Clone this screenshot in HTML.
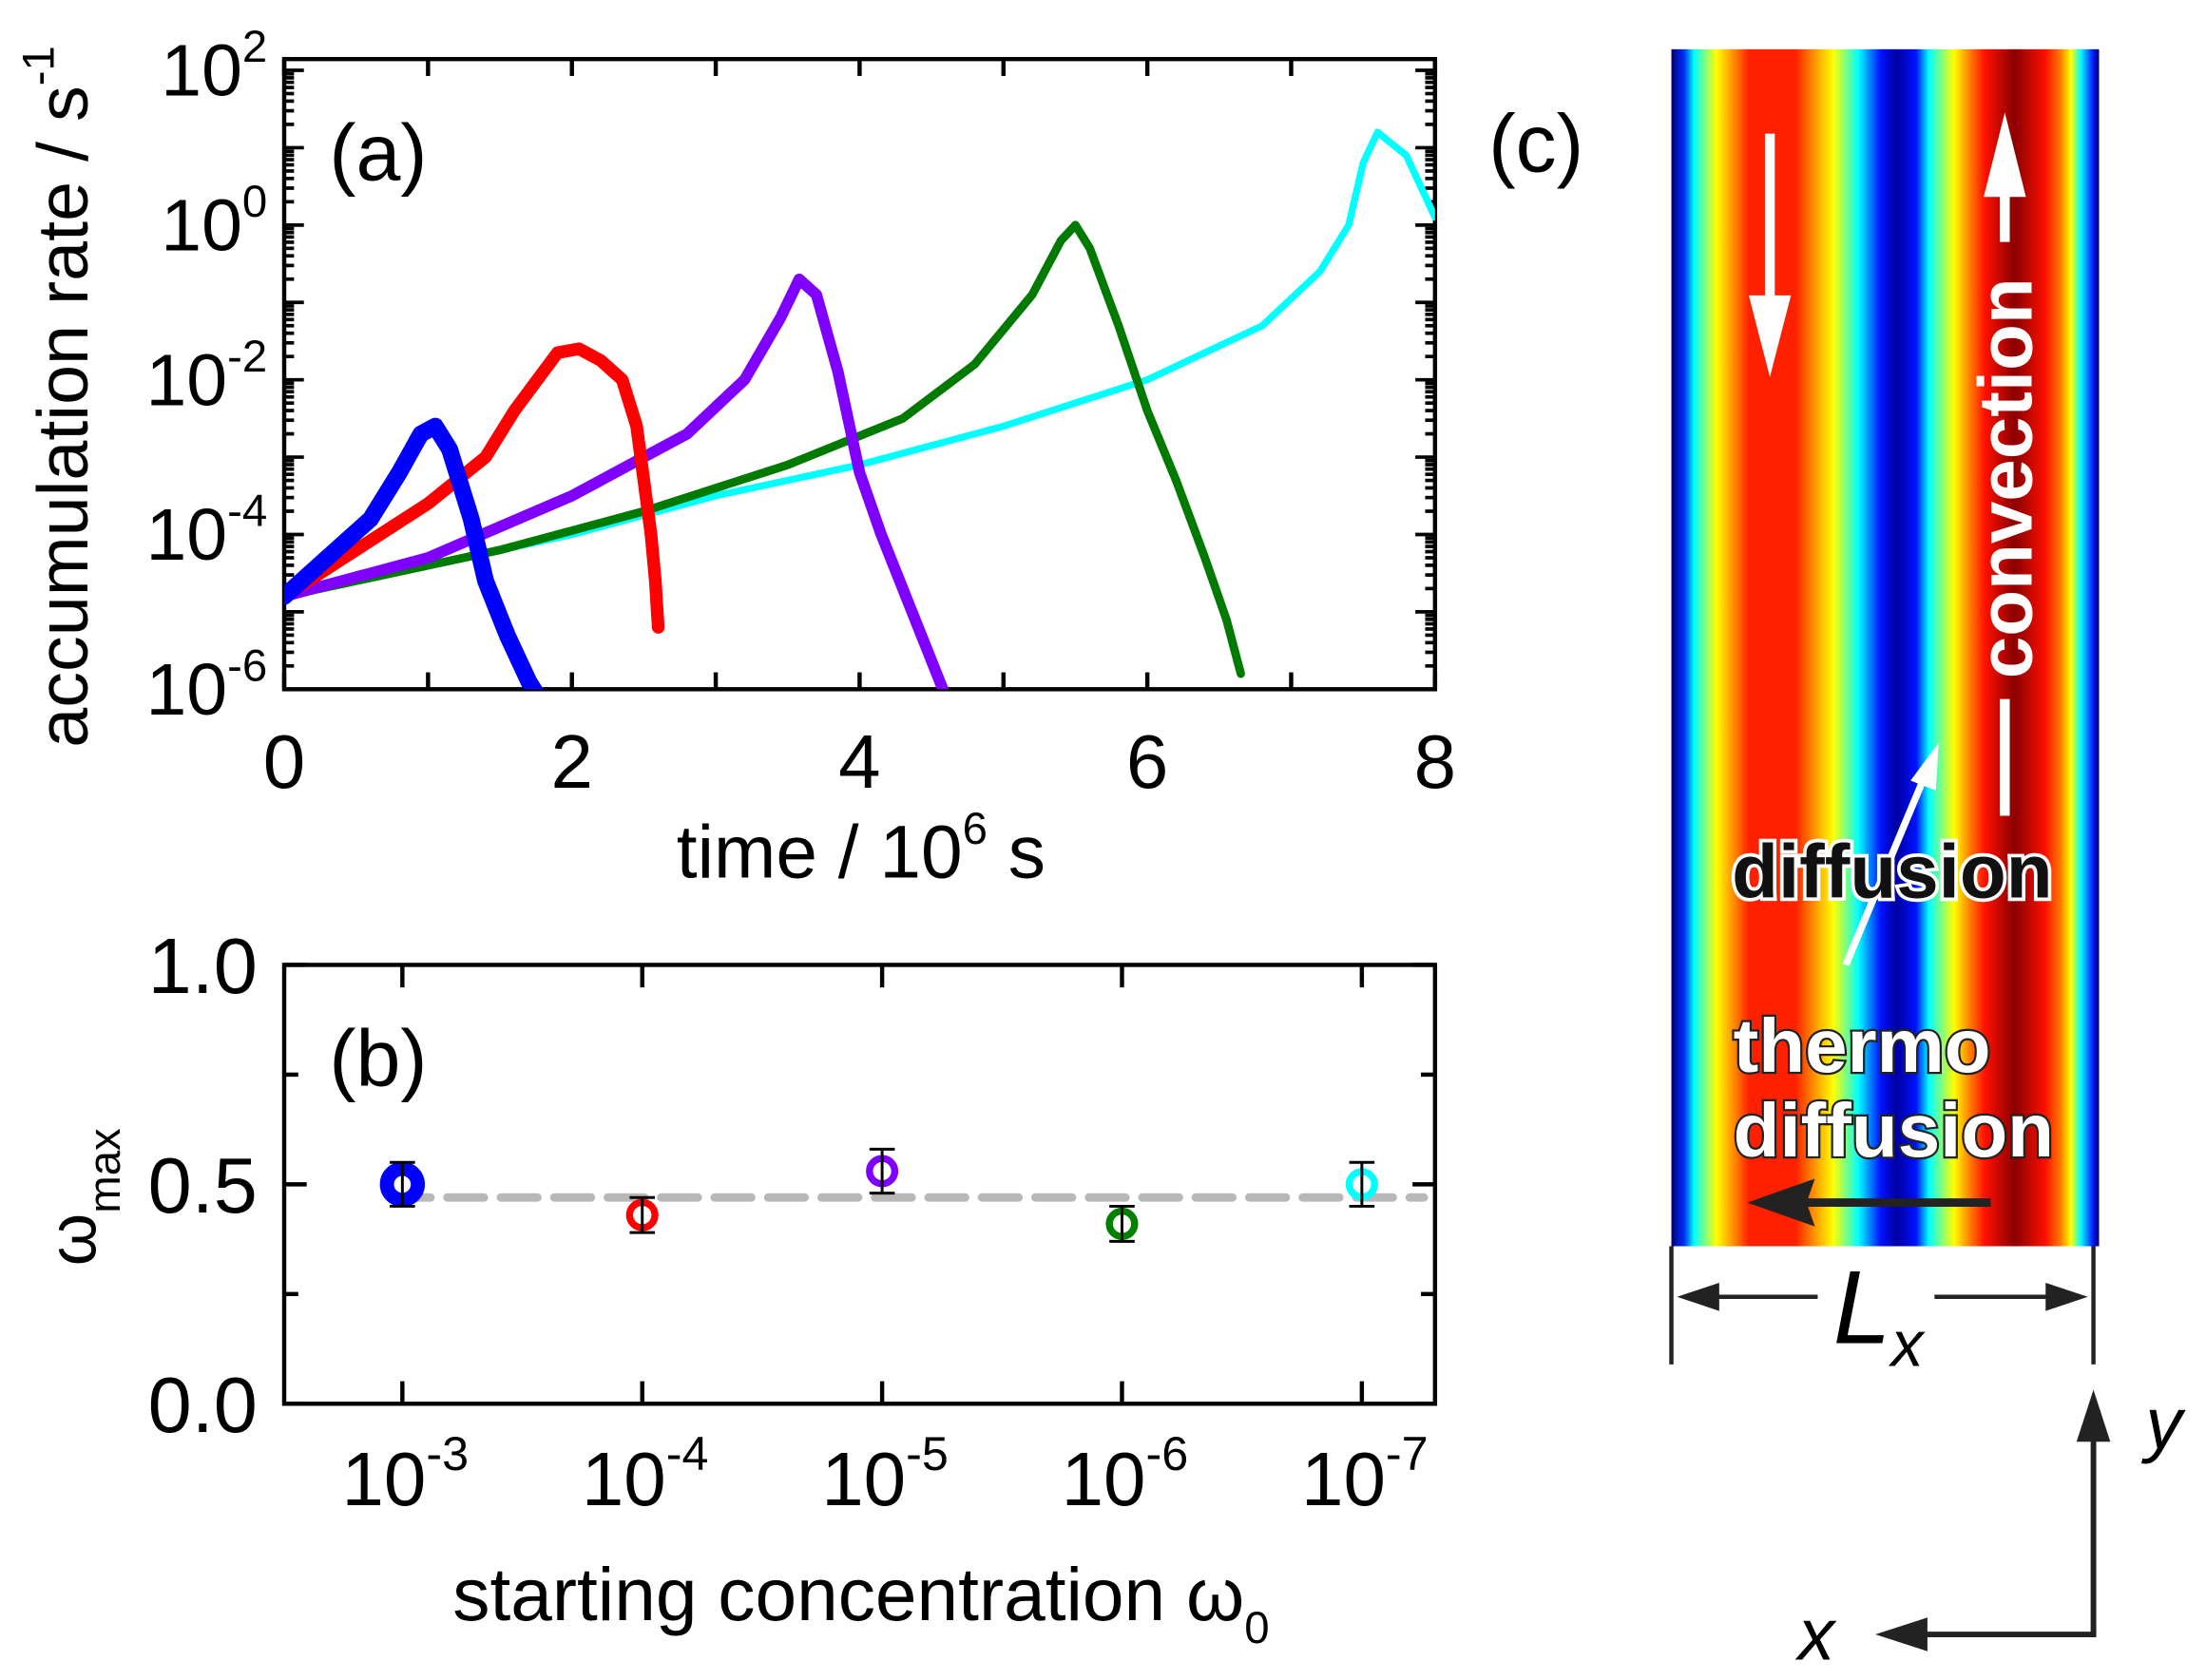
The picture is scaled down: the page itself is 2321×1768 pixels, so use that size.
<!DOCTYPE html>
<html><head><meta charset="utf-8"><style>
html,body{margin:0;padding:0;background:#fff}
svg{display:block}
text{font-family:"Liberation Sans",sans-serif}
</style></head><body>
<svg id="fig" width="2321" height="1768" viewBox="0 0 1568 1194.4" preserveAspectRatio="none" xmlns="http://www.w3.org/2000/svg">
<defs>
<linearGradient id="jet" x1="1188" x2="1492" y1="0" y2="0" gradientUnits="userSpaceOnUse">
<stop offset="0" stop-color="#00007a"/>
<stop offset="0.03" stop-color="#0030ff"/>
<stop offset="0.053" stop-color="#00ffff"/>
<stop offset="0.105" stop-color="#ffff00"/>
<stop offset="0.15" stop-color="#ff8000"/>
<stop offset="0.181" stop-color="#ff2000"/>
<stop offset="0.29" stop-color="#ff2000"/>
<stop offset="0.327" stop-color="#ff8000"/>
<stop offset="0.378" stop-color="#ffff00"/>
<stop offset="0.437" stop-color="#00ffff"/>
<stop offset="0.49" stop-color="#0010ff"/>
<stop offset="0.526" stop-color="#0000a0"/>
<stop offset="0.572" stop-color="#0010ff"/>
<stop offset="0.602" stop-color="#00ffff"/>
<stop offset="0.661" stop-color="#ffff00"/>
<stop offset="0.697" stop-color="#ff8000"/>
<stop offset="0.733" stop-color="#ff1000"/>
<stop offset="0.803" stop-color="#8a0000"/>
<stop offset="0.875" stop-color="#ff1000"/>
<stop offset="0.911" stop-color="#ff8000"/>
<stop offset="0.934" stop-color="#ffff00"/>
<stop offset="0.957" stop-color="#00ffff"/>
<stop offset="0.987" stop-color="#0010ff"/>
<stop offset="1" stop-color="#00005a"/>
</linearGradient>
</defs>
<g id="pa"></g>
<g id="pb"></g>
<g id="pc">
<rect x="1188" y="35" width="304" height="851" fill="url(#jet)"/>
<text x="1058" y="122" font-size="58">(c)</text>
<line x1="1258" y1="95" x2="1258" y2="225" stroke="#fff" stroke-width="7"/>
<polygon points="1243,210 1273,210 1258,268" fill="#fff"/>
<line x1="1425" y1="125" x2="1425" y2="172" stroke="#fff" stroke-width="7"/>
<polygon points="1410,140 1440,140 1425,80" fill="#fff"/>
<text transform="translate(1444,340) rotate(-90)" text-anchor="middle" font-size="54" font-weight="bold" fill="#fff">convection</text>
<line x1="1425" y1="497" x2="1425" y2="580" stroke="#fff" stroke-width="7"/>
<line x1="1312" y1="686" x2="1368" y2="552" stroke="#fff" stroke-width="5"/>
<polygon points="1378,528 1376,562 1358,555" fill="#fff"/>
<text x="1231" y="638" font-size="54" font-weight="bold" fill="#111" stroke="#fff" stroke-width="5" paint-order="stroke">diffusion</text>
<text x="1232" y="762" font-size="54" font-weight="bold" fill="#fff" stroke="#222" stroke-width="3" paint-order="stroke">thermo</text>
<text x="1232" y="822" font-size="54" font-weight="bold" fill="#fff" stroke="#222" stroke-width="3" paint-order="stroke">diffusion</text>
<line x1="1415" y1="855" x2="1275" y2="855" stroke="#222" stroke-width="6"/>
<polygon points="1242,855 1290,838 1284,855 1290,872" fill="#222"/>
<line x1="1188" y1="886" x2="1188" y2="970" stroke="#222" stroke-width="3"/>
<line x1="1488" y1="886" x2="1488" y2="970" stroke="#222" stroke-width="3"/>
<line x1="1205" y1="922" x2="1292" y2="922" stroke="#222" stroke-width="3"/>
<polygon points="1192,922 1222,912 1222,932" fill="#222"/>
<line x1="1375" y1="922" x2="1470" y2="922" stroke="#222" stroke-width="3"/>
<polygon points="1484,922 1454,912 1454,932" fill="#222"/>
<text x="1303" y="955" font-size="74" font-style="italic">L<tspan font-size="46" dy="16">x</tspan></text>
<line x1="1488" y1="1162" x2="1488" y2="1015" stroke="#222" stroke-width="4"/>
<polygon points="1488,988 1476,1025 1500,1025" fill="#222"/>
<text x="1525" y="1030" font-size="52" font-style="italic">y</text>
<line x1="1490" y1="1162" x2="1360" y2="1162" stroke="#222" stroke-width="4"/>
<polygon points="1333,1162 1370,1150 1370,1174" fill="#222"/>
<text x="1278" y="1180" font-size="52" font-style="italic">x</text>
</g>
</svg>
<script>
// Panel (a) data: time (1e6 s) and log10(rate / s^-1)
const blueT = [0,0.3,0.6,0.8,0.95,1.05,1.15,1.3,1.4,1.55,1.7,1.8];
const blueV = [-4.8,-4.3,-3.8,-3.2,-2.7,-2.6,-2.9,-3.8,-4.6,-5.3,-5.9,-6.2];
const redT = [0,0.5,1.0,1.4,1.6,1.8,1.9,2.05,2.2,2.35,2.45,2.5,2.55,2.58,2.6];
const redV = [-4.8,-4.2,-3.6,-3.0,-2.4,-1.9,-1.65,-1.6,-1.75,-2.0,-2.6,-3.3,-4.0,-4.6,-5.2];
const purpleT = [0,1,2,2.8,3.2,3.45,3.58,3.7,3.85,4.0,4.15,4.3,4.45,4.6];
const purpleV = [-4.8,-4.3,-3.5,-2.7,-2.0,-1.2,-0.7,-0.9,-1.9,-3.2,-4.0,-4.7,-5.4,-6.1];
const greenT = [0,1.5,2.5,3.5,4.3,4.8,5.2,5.4,5.5,5.6,5.8,6.0,6.2,6.4,6.55,6.65];
const greenV = [-4.8,-4.2,-3.7,-3.1,-2.5,-1.8,-0.9,-0.2,0.0,-0.3,-1.3,-2.4,-3.3,-4.3,-5.1,-5.8];
const cyanT = [0,1,2,3,4,5,6,6.8,7.2,7.4,7.5,7.6,7.8,8];
const cyanV = [-4.8,-4.4,-4.0,-3.5,-3.1,-2.6,-2.0,-1.3,-0.6,0.0,0.8,1.2,0.9,0.1];
const aXTicks = [0,2,4,6,8];
const aYTicks = [2,0,-2,-4,-6];
// Panel (b) data
const bCats = ["-3","-4","-5","-6","-7"];
const bVals = [0.50,0.43,0.53,0.41,0.50];
const bErr = [0.05,0.04,0.05,0.04,0.05];
const bColors = ["#0000ff","#ff0000","#8000ff","#008000","#00ffff"];
const bMean = 0.47;
const bYTicks = ["0.0","0.5","1.0"];

const NS="http://www.w3.org/2000/svg";
function mk(parent,tag,attrs){const e=document.createElementNS(NS,tag);for(const k in attrs)e.setAttribute(k,attrs[k]);parent.appendChild(e);return e;}
const pa=document.getElementById('pa'), pb=document.getElementById('pb');
const AX0=202,AX1=1020,AY0=42,AY1=490;
const ax=t=>AX0+(AX1-AX0)*t/8;
const ay=v=>AY1-(v+6)*55;
const frameA=mk(pa,'rect',{x:AX0,y:AY0,width:AX1-AX0,height:AY1-AY0,fill:'none',stroke:'#000','stroke-width':3});


for(let t=0;t<=8;t++){
  const l1=mk(pa,'line',{x1:ax(t),x2:ax(t),y1:AY1,y2:AY1-12,stroke:'#000','stroke-width':3});
  
  
  const l2=mk(pa,'line',{x1:ax(t),x2:ax(t),y1:AY0,y2:AY0+12,stroke:'#000','stroke-width':3});
  
  
}
for(let d=-6;d<=2;d++){
  for(let m=1;m<10;m++){
    const v=d+Math.log10(m); if(ay(v)<AY0) continue;
    const len=m===1?14:7;
    const l=mk(pa,'line',{x1:AX0,x2:AX0+len,y1:ay(v),y2:ay(v),stroke:'#000','stroke-width':2.5});
    
    
    const r=mk(pa,'line',{x1:AX1,x2:AX1-len,y1:ay(v),y2:ay(v),stroke:'#000','stroke-width':2.5});
    
    
    if(d===2)break;
  }
}
aXTicks.forEach(t=>{const e=mk(pa,'text',{x:ax(t),y:560,'font-size':54,'text-anchor':'middle'});e.textContent=t;

});
aYTicks.forEach(v=>{const e=mk(pa,'text',{x:190,y:ay(v)+18,'font-size':52,'text-anchor':'end'});e.innerHTML='10<tspan font-size="32" dy="-24">'+v+'</tspan>';

});
let t1=mk(pa,'text',{x:612,y:624,'font-size':53,'text-anchor':'middle'});t1.innerHTML='time / 10<tspan font-size="32" dy="-24">6</tspan><tspan dy="24"> s</tspan>';


let t2=mk(pa,'text',{transform:'translate(62,282) rotate(-90)','font-size':51,'text-anchor':'middle'});t2.innerHTML='accumulation rate / s<tspan font-size="32" dy="-24">-1</tspan>';


let t3=mk(pa,'text',{x:234,y:128,'font-size':57});t3.textContent='(a)';


const clipG=mk(pa,'svg',{x:AX0,y:AY0,width:AX1-AX0,height:AY1-AY0,viewBox:`${AX0} ${AY0} ${AX1-AX0} ${AY1-AY0}`,overflow:'hidden'});
const series=[[cyanT,cyanV,'#00ffff',5,'series-1e-7'],[greenT,greenV,'#007a00',6,'series-1e-6'],[purpleT,purpleV,'#8000ff',8,'series-1e-5'],[redT,redV,'#ff0000',9,'series-1e-4'],[blueT,blueV,'#0000ff',12,'series-1e-3']];
series.forEach(([T,V,c,w,n])=>{
  const pts=T.map((t,i)=>ax(t)+','+ay(V[i])).join(' ');
  const p=mk(clipG,'polyline',{points:pts,fill:'none',stroke:c,'stroke-width':w,'stroke-linejoin':'round','stroke-linecap':'round'});
  
  
});
// panel b
const BX0=202,BX1=1020,BY0=686,BY1=998;
const bx=i=>286+i*170.5;
const by=v=>BY1-(BY1-BY0)*v;
const frameB=mk(pb,'rect',{x:BX0,y:BY0,width:BX1-BX0,height:BY1-BY0,fill:'none',stroke:'#000','stroke-width':3});


[0,0.25,0.5,0.75,1].forEach(v=>{
  const len=(v===0.25||v===0.75)?10:16;
  const a=mk(pb,'line',{x1:BX0,x2:BX0+len,y1:by(v),y2:by(v),stroke:'#000','stroke-width':3});
  
  
  const b=mk(pb,'line',{x1:BX1,x2:BX1-len,y1:by(v),y2:by(v),stroke:'#000','stroke-width':3});
  
  
});
bYTicks.forEach(s=>{const e=mk(pb,'text',{x:183,y:by(parseFloat(s))+20,'font-size':56,'text-anchor':'end'});e.textContent=s;

});
const mean=mk(pb,'line',{x1:280,x2:1012,y1:by(bMean),y2:by(bMean),stroke:'#b8b8b8','stroke-width':6,'stroke-dasharray':'26 12','stroke-linecap':'round'});


bCats.forEach((c,i)=>{
  const x=bx(i);
  const a=mk(pb,'line',{x1:x,x2:x,y1:BY1,y2:BY1-16,stroke:'#000','stroke-width':3});
  
  
  const b=mk(pb,'line',{x1:x,x2:x,y1:BY0,y2:BY0+16,stroke:'#000','stroke-width':3});
  
  
  const e=mk(pb,'text',{x:x+2,y:1070,'font-size':54,'text-anchor':'middle'});e.innerHTML='10<tspan font-size="34" dy="-25">'+c+'</tspan>';
  
  
  const y=by(bVals[i]),ylo=by(bVals[i]-bErr[i]),yhi=by(bVals[i]+bErr[i]);
  const m=mk(pb,'circle',{cx:x,cy:y,r:i===0?11:9,fill:'none',stroke:bColors[i],'stroke-width':i===0?10:5});
  
  
  const eb=mk(pb,'path',{d:`M${x},${ylo}V${yhi}M${x-9},${ylo}H${x+9}M${x-9},${yhi}H${x+9}`,stroke:'#000','stroke-width':2,fill:'none'});
  
  
});
let t4=mk(pb,'text',{x:612,y:1152,'font-size':53,'text-anchor':'middle'});t4.innerHTML='starting concentration ω<tspan font-size="32" dy="16">0</tspan>';


let t5=mk(pb,'text',{transform:'translate(68,900) rotate(-90)','font-size':48});t5.innerHTML='ω<tspan font-size="32" dy="17">max</tspan>';


let t6=mk(pb,'text',{x:234,y:772,'font-size':57});t6.textContent='(b)';


</script>
</body></html>
